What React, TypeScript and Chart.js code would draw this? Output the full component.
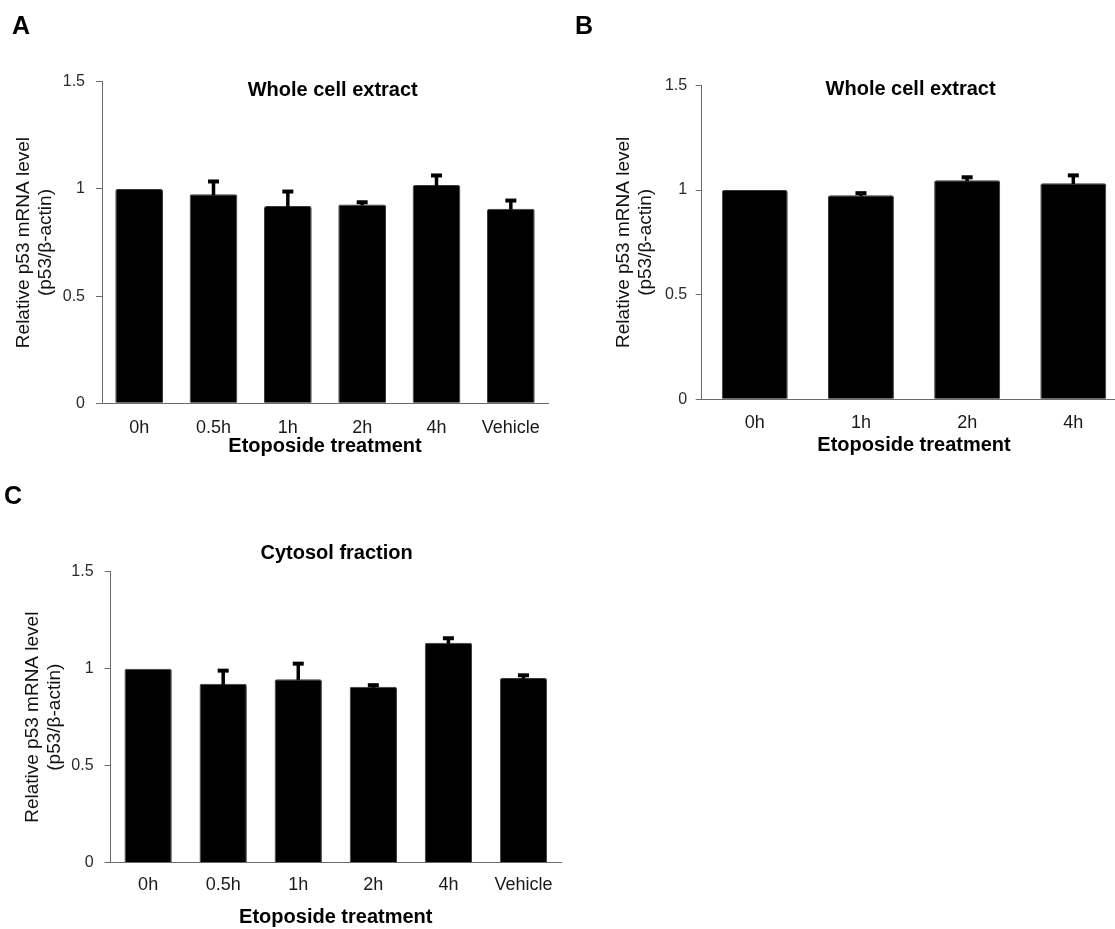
import React, { useEffect, useRef } from "react";
import { Chart, registerables } from "chart.js";

Chart.register(...registerables);

const FONT = "'Liberation Sans', Arial, Helvetica, sans-serif";

// ---- data ----
const categoriesAC = ["0h", "0.5h", "1h", "2h", "4h", "Vehicle"];
const categoriesB = ["0h", "1h", "2h", "4h"];

const valuesA = [1.0, 0.975, 0.92, 0.928, 1.018, 0.908];
const errorsA = [0, 0.06, 0.068, 0.01, 0.045, 0.038];

const valuesB = [1.0, 0.975, 1.047, 1.033];
const errorsB = [0, 0.01, 0.014, 0.037];

const valuesC = [1.0, 0.922, 0.946, 0.907, 1.134, 0.952];
const errorsC = [0, 0.068, 0.08, 0.008, 0.023, 0.014];

const yTickValues = [0, 0.5, 1, 1.5];
const yTickLabels = ["0", "0.5", "1", "1.5"];
const yTitle = ["Relative p53 mRNA level", "(p53/β-actin)"];
const xTitle = "Etoposide treatment";
const titleWhole = "Whole cell extract";
const titleCytosol = "Cytosol fraction";

// ---- plugins ----
const errorBarPlugin = {
  id: "errorBars",
  afterDatasetsDraw(chart: any) {
    const ctx = chart.ctx;
    const yScale = chart.scales.y;
    chart.data.datasets.forEach((ds: any, di: number) => {
      const errs = ds.errors as number[] | undefined;
      if (!errs) return;
      const meta = chart.getDatasetMeta(di);
      meta.data.forEach((bar: any, i: number) => {
        const e = errs[i];
        if (!e) return;
        const v = ds.data[i];
        const yTop = yScale.getPixelForValue(v + e);
        const yBar = yScale.getPixelForValue(v);
        ctx.save();
        ctx.strokeStyle = "#000";
        ctx.lineCap = "butt";
        ctx.lineWidth = 3.5;
        ctx.beginPath();
        ctx.moveTo(bar.x, yBar + 1);
        ctx.lineTo(bar.x, yTop);
        ctx.stroke();
        ctx.lineWidth = 4;
        ctx.beginPath();
        ctx.moveTo(bar.x - 5.5, yTop);
        ctx.lineTo(bar.x + 5.5, yTop);
        ctx.stroke();
        ctx.restore();
      });
    });
  },
};

const panelTitlePlugin = {
  id: "panelTitle",
  afterDraw(chart: any, _args: any, opts: any) {
    if (!opts || !opts.text) return;
    const ctx = chart.ctx;
    ctx.save();
    ctx.font = `bold 20px ${FONT}`;
    ctx.fillStyle = "#000";
    ctx.textAlign = "center";
    ctx.textBaseline = "middle";
    ctx.fillText(opts.text, opts.x, opts.y);
    ctx.restore();
  },
};

type Panel = {
  left: number;
  top: number;
  width: number;
  height: number;
  labels: string[];
  values: number[];
  errors: number[];
  title: string;
  titleX: number;
  titleY: number;
  area: { left: number; right: number; top: number; bottom: number };
  barPct: number;
  yTickPad: number;
  xTickPad: number;
  yTitlePad: number;
  xTitlePad: number;
};

const AXIS = "#6b6b6b";

function PanelChart({ p }: { p: Panel }) {
  const ref = useRef<HTMLCanvasElement | null>(null);
  useEffect(() => {
    if (!ref.current) return;
    const chart = new Chart(ref.current, {
      type: "bar",
      data: {
        labels: p.labels,
        datasets: [
          {
            data: p.values,
            errors: p.errors,
            backgroundColor: "#000",
            borderColor: "#3a3a3a",
            borderWidth: 1,
            borderRadius: 2,
            borderSkipped: "bottom",
            barPercentage: p.barPct,
            categoryPercentage: 1,
          } as any,
        ],
      },
      plugins: [errorBarPlugin, panelTitlePlugin],
      options: {
        responsive: false,
        animation: false,
        devicePixelRatio: 1,
        layout: {
          padding: { left: 0, top: p.area.top, right: p.width - p.area.right, bottom: 0 },
        },
        plugins: {
          legend: { display: false },
          tooltip: { enabled: false },
          title: { display: false },
          panelTitle: { text: p.title, x: p.titleX, y: p.titleY },
        } as any,
        scales: {
          x: {
            grid: { display: false, drawTicks: false },
            border: { display: true, color: AXIS, width: 1 },
            ticks: {
              color: "#1a1a1a",
              font: { size: 18, family: FONT },
              padding: p.xTickPad,
              maxRotation: 0,
              autoSkip: false,
            },
            title: {
              display: true,
              text: xTitle,
              color: "#000",
              font: { size: 20, weight: "bold", family: FONT },
              padding: { top: 0, bottom: p.xTitlePad },
            },
            afterFit: (s: any) => {
              s.height = p.height - p.area.bottom;
              s.paddingLeft = 0;
              s.paddingRight = 0;
              s.paddingTop = 0;
              s.paddingBottom = 0;
            },
          },
          y: {
            min: 0,
            max: 1.5,
            afterBuildTicks: (s: any) => {
              s.ticks = yTickValues.map((v) => ({ value: v }));
            },
            grid: {
              display: true,
              drawOnChartArea: false,
              drawTicks: true,
              tickLength: 6,
              color: AXIS,
            },
            border: { display: true, color: AXIS, width: 1 },
            ticks: {
              color: "#2a2a2a",
              font: { size: 16, family: FONT },
              padding: p.yTickPad,
              callback: (v: any) => {
                const i = yTickValues.indexOf(Number(v));
                return i >= 0 ? yTickLabels[i] : String(v);
              },
            },
            title: {
              display: true,
              text: yTitle,
              color: "#111",
              font: { size: 19, family: FONT, lineHeight: 1.15 },
              padding: { top: p.yTitlePad, bottom: 0 },
            },
            afterFit: (s: any) => {
              s.width = p.area.left;
              s.paddingTop = 0;
              s.paddingBottom = 0;
              s.paddingLeft = 0;
              s.paddingRight = 0;
            },
          },
        },
      } as any,
    });
    return () => chart.destroy();
  }, [p]);
  return (
    <canvas
      ref={ref}
      width={p.width}
      height={p.height}
      style={{ position: "absolute", left: p.left, top: p.top, width: p.width, height: p.height }}
    />
  );
}

const panelA: Panel = {
  left: 0,
  top: 0,
  width: 570,
  height: 470,
  labels: categoriesAC,
  values: valuesA,
  errors: errorsA,
  title: titleWhole,
  titleX: 332.7,
  titleY: 90,
  area: { left: 102, right: 548, top: 81.8, bottom: 403.3 },
  barPct: 0.642,
  yTickPad: 11,
  xTickPad: 14,
  yTitlePad: 13,
  xTitlePad: 12,
};

const panelB: Panel = {
  left: 580,
  top: 0,
  width: 550,
  height: 470,
  labels: categoriesB,
  values: valuesB,
  errors: errorsB,
  title: titleWhole,
  titleX: 330.6,
  titleY: 89,
  area: { left: 121.7, right: 546.4, top: 85.4, bottom: 399.3 },
  barPct: 0.621,
  yTickPad: 8.5,
  xTickPad: 13,
  yTitlePad: 32.8,
  xTitlePad: 13,
};

const panelC: Panel = {
  left: 0,
  top: 470,
  width: 580,
  height: 459,
  labels: categoriesAC,
  values: valuesC,
  errors: errorsC,
  title: titleCytosol,
  titleX: 336.6,
  titleY: 83.7,
  area: { left: 110.6, right: 561, top: 101.7, bottom: 392.7 },
  barPct: 0.63,
  yTickPad: 11,
  xTickPad: 12,
  yTitlePad: 21.7,
  xTitlePad: 0,
};

const letterStyle: React.CSSProperties = {
  position: "absolute",
  fontFamily: FONT,
  fontWeight: "bold",
  fontSize: 25,
  lineHeight: 1,
  color: "#000",
};

export default function App() {
  return (
    <div
      style={{
        position: "absolute",
        left: 0,
        top: 0,
        width: 1115,
        height: 929,
        overflow: "hidden",
        background: "#fff",
      }}
    >
      <PanelChart p={panelA} />
      <PanelChart p={panelB} />
      <PanelChart p={panelC} />
      <div style={{ ...letterStyle, left: 12, top: 13.4 }}>A</div>
      <div style={{ ...letterStyle, left: 575, top: 13.4 }}>B</div>
      <div style={{ ...letterStyle, left: 4, top: 483.4 }}>C</div>
    </div>
  );
}
